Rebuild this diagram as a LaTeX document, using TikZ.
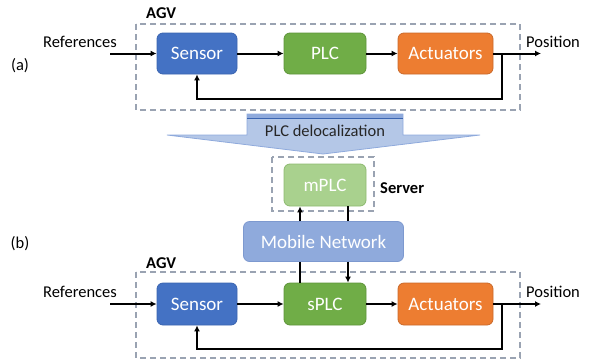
\documentclass[tikz,border=0pt]{standalone}
\usepackage{fontspec}
\setmainfont{Carlito}
\usetikzlibrary{arrows.meta}
\definecolor{sensblue}{HTML}{4472C4}
\definecolor{sensedge}{HTML}{3A64B0}
\definecolor{plcgreen}{HTML}{70AD47}
\definecolor{plcedge}{HTML}{5E9439}
\definecolor{actorange}{HTML}{ED7D31}
\definecolor{actedge}{HTML}{C9692A}
\definecolor{mplcgreen}{HTML}{A9D18E}
\definecolor{mplcedge}{HTML}{8DBA70}
\definecolor{netblue}{HTML}{8FAADC}
\definecolor{netedge}{HTML}{7D99CF}
\definecolor{delocfill}{HTML}{B4C7E7}
\definecolor{delocedge}{HTML}{8FAADC}
\definecolor{boxgray}{HTML}{9AA3B2}
\begin{document}
\begin{tikzpicture}[x=1pt,y=-1pt]

\tikzstyle{block}=[rounded corners=6pt,line width=0.8pt,text=white,inner sep=0pt,font=\fontsize{19}{22}\selectfont,minimum height=41pt]
\tikzstyle{agvbox}=[draw=boxgray,line width=1.1pt,dash pattern=on 6pt off 4pt]
\tikzstyle{lbl}=[inner sep=0pt,font=\fontsize{16.5}{19}\selectfont]
\tikzstyle{boldlbl}=[inner sep=0pt,font=\fontsize{16.5}{19}\selectfont\bfseries]
\tikzstyle{wire}=[line width=2pt,-{Latex[length=6pt,width=6pt]}]
\tikzstyle{plain}=[line width=2pt]

\useasboundingbox (0,0) rectangle (593,362);

% (a) local control loop
\draw [agvbox] (136,24) rectangle (520,110);
\node [boldlbl,anchor=west] (agvA) at (146,13) {AGV};
\node [lbl] (labA) at (20,66) {(a)};
\node [block,fill=sensblue,draw=sensedge,minimum width=80pt] (sensA) at (197,53.5) {Sensor};
\node [block,fill=plcgreen,draw=plcedge,minimum width=82pt] (plcA) at (325,53.5) {PLC};
\node [block,fill=actorange,draw=actedge,minimum width=95pt] (actA) at (445.5,53.5) {Actuators};
\node [lbl] (refA) at (80,42) {References};
\node [lbl,anchor=west] (posA) at (526,42) {Position};
\coordinate (inA) at (110,53.5);
\coordinate (outA) at (541,53.5);
\coordinate (fbA) at (502,99);
\draw [wire] (inA) -- (sensA);
\draw [wire] (sensA) -- (plcA);
\draw [wire] (plcA) -- (actA);
\draw [wire] (actA) -- (outA);
\draw [wire] (fbA |- actA.east) -- (fbA) -| (sensA.south);

% delocalization arrow
\draw [fill=delocfill,draw=delocedge,line width=0.8pt] (247,114) -- (403,114) -- (403,135) -- (480,135) -- (323,154) -- (167,135) -- (247,135) -- cycle;
\fill [delocedge] (247,114) rectangle (403,118.5);
\draw [sensedge,line width=0.6pt] (247,118.5) -- (403,118.5);
\node [lbl,text=black!85] (deloc) at (325,131) {PLC delocalization};

% server side
\draw [agvbox] (272,157) rectangle (374,211);
\node [block,fill=mplcgreen,draw=mplcedge,minimum width=82pt,minimum height=42pt] (mplc) at (325,185) {mPLC};
\node [boldlbl,anchor=west] (srv) at (380,188) {Server};
\node [block,fill=netblue,draw=netedge,minimum width=160pt,minimum height=40pt] (net) at (323.5,241.5) {Mobile Network};

% (b) delocalized control loop
\draw [agvbox] (136,272) rectangle (520,358);
\node [boldlbl,anchor=west] (agvB) at (146,263) {AGV};
\node [lbl] (labB) at (20,244) {(b)};
\node [block,fill=sensblue,draw=sensedge,minimum width=80pt,minimum height=42pt] (sensB) at (197,304) {Sensor};
\node [block,fill=plcgreen,draw=plcedge,minimum width=82pt,minimum height=42pt] (splc) at (325,304) {sPLC};
\node [block,fill=actorange,draw=actedge,minimum width=95pt,minimum height=42pt] (actB) at (445.5,304) {Actuators};
\node [lbl] (refB) at (80,292) {References};
\node [lbl,anchor=west] (posB) at (526,292) {Position};
\coordinate (inB) at (110,304);
\coordinate (outB) at (541,304);
\coordinate (fbB) at (502,349);
\coordinate (upL) at (300,0);
\coordinate (dnR) at (348,0);
\draw [wire] (inB) -- (sensB);
\draw [wire] (sensB) -- (splc);
\draw [wire] (splc) -- (actB);
\draw [wire] (actB) -- (outB);
\draw [wire] (fbB |- actB.east) -- (fbB) -| (sensB.south);
\draw [plain] (upL |- splc.north) -- (upL |- net.south);
\draw [wire] (upL |- net.north) -- (upL |- mplc.south);
\draw [plain] (dnR |- mplc.south) -- (dnR |- net.north);
\draw [wire] (dnR |- net.south) -- (dnR |- splc.north);
\end{tikzpicture}
\end{document}
